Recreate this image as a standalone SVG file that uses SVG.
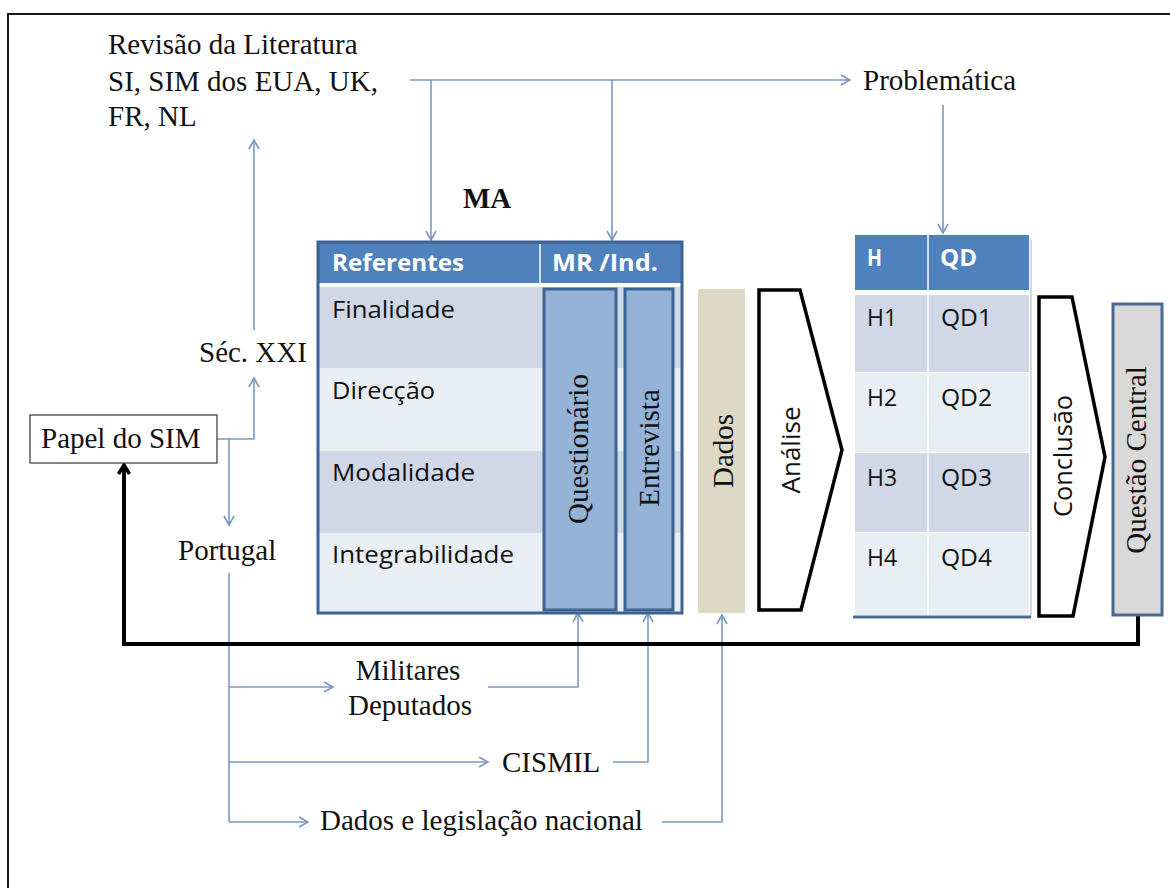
<svg xmlns="http://www.w3.org/2000/svg" width="1170" height="888" viewBox="0 0 1170 888">
  <style>
    .serif { font-family: "Liberation Serif", "Times New Roman", serif; font-size: 29px; fill: #111; }
    .sans { font-family: "Open Sans", "Liberation Sans", sans-serif; font-size: 23px; fill: #111; }
    .sansHead { font-family: "Open Sans", "Liberation Sans", sans-serif; font-size: 23px; font-weight: bold; fill: #ffffff; }
    .sansRot { font-family: "Open Sans", "Liberation Sans", sans-serif; font-size: 25px; fill: #111; }
    .link { fill: none; stroke: #7b98c2; stroke-width: 1.6; }
    .back { fill: none; stroke: #000; stroke-width: 4; }
    .chev { fill: #ffffff; stroke: #000; stroke-width: 3.5; stroke-linejoin: miter; }
    .rowA { fill: #d0d8e8; }
    .rowB { fill: #e9edf4; }
    .head { fill: #4f81bd; }
    .col { fill: #95b3d7; stroke: #3c6291; stroke-width: 3; }
  </style>
  <defs>
    <marker id="arrowBlue" markerUnits="userSpaceOnUse" markerWidth="14" markerHeight="14" refX="10" refY="6" orient="auto">
      <path d="M1,1 L10,6 L1,11" fill="none" stroke="#7b98c2" stroke-width="1.6"/>
    </marker>
    <marker id="arrowBlack" markerUnits="userSpaceOnUse" markerWidth="16" markerHeight="16" refX="11" refY="7" orient="auto">
      <path d="M2,1.5 L11,7 L2,12.5" fill="none" stroke="#000" stroke-width="3.5"/>
    </marker>
  </defs>

  <rect width="1170" height="888" fill="#ffffff"/>
  <!-- page frame -->
  <path d="M8,888 V14 H1170" fill="none" stroke="#1a1a1a" stroke-width="2"/>

  <!-- connectors -->
  <g id="connectors">
    <path class="link" d="M410,80 H850" marker-end="url(#arrowBlue)"/>
    <path class="link" d="M431,80 V240" marker-end="url(#arrowBlue)"/>
    <path class="link" d="M612,80 V240" marker-end="url(#arrowBlue)"/>
    <path class="link" d="M943,105 V233" marker-end="url(#arrowBlue)"/>
    <path class="link" d="M217,439 H254 V378" marker-end="url(#arrowBlue)"/>
    <path class="link" d="M254,330 V140" marker-end="url(#arrowBlue)"/>
    <path class="link" d="M229,439 V525" marker-end="url(#arrowBlue)"/>
    <path class="link" d="M229,573 V822"/>
    <path class="link" d="M229,687 H333" marker-end="url(#arrowBlue)"/>
    <path class="link" d="M229,762 H488" marker-end="url(#arrowBlue)"/>
    <path class="link" d="M229,822 H308" marker-end="url(#arrowBlue)"/>
    <path class="link" d="M488,687 H578 V613" marker-end="url(#arrowBlue)"/>
    <path class="link" d="M613,762 H648 V613" marker-end="url(#arrowBlue)"/>
    <path class="link" d="M662,822 H722 V615" marker-end="url(#arrowBlue)"/>
    <path class="back" d="M1138,616 V644 H124 V465" marker-end="url(#arrowBlack)"/>
  </g>

  <!-- literature review -->
  <g id="revisao">
    <text class="serif" x="108" y="54">Revisão da Literatura</text>
    <text class="serif" x="108" y="91">SI, SIM dos EUA, UK,</text>
    <text class="serif" x="108" y="126">FR, NL</text>
  </g>

  <g id="problematica">
    <text class="serif" x="863" y="90">Problemática</text>
  </g>

  <g id="ma">
    <text class="serif" x="463" y="208" font-weight="bold">MA</text>
  </g>

  <g id="seculo">
    <text class="serif" x="199" y="362">Séc. XXI</text>
  </g>

  <g id="papel">
    <rect x="30" y="415" width="187" height="48" fill="#ffffff" stroke="#333" stroke-width="1.2"/>
    <text class="serif" x="41" y="448">Papel do SIM</text>
  </g>

  <g id="portugal">
    <text class="serif" x="178" y="560">Portugal</text>
  </g>

  <g id="militares">
    <text class="serif" x="408" y="680" text-anchor="middle">Militares</text>
    <text class="serif" x="410" y="715" text-anchor="middle">Deputados</text>
  </g>

  <g id="cismil">
    <text class="serif" x="502" y="772">CISMIL</text>
  </g>

  <g id="legislacao">
    <text class="serif" x="320" y="830">Dados e legislação nacional</text>
  </g>

  <!-- analysis model table -->
  <g id="tabela-ma">
    <rect class="head" x="318" y="242" width="364" height="41"/>
    <rect x="318" y="283" width="364" height="4" fill="#ffffff"/>
    <rect class="rowA" x="318" y="287" width="364" height="81"/>
    <rect class="rowB" x="318" y="368" width="364" height="83"/>
    <rect class="rowA" x="318" y="451" width="364" height="82"/>
    <rect class="rowB" x="318" y="533" width="364" height="80"/>
    <line x1="540" y1="244" x2="540" y2="283" stroke="#ffffff" stroke-width="1.5"/>
    <rect x="318" y="242" width="364" height="371" fill="none" stroke="#3c6291" stroke-width="3"/>
    <text class="sansHead" x="332" y="271" textLength="132" lengthAdjust="spacingAndGlyphs">Referentes</text>
    <text class="sansHead" x="552" y="271" textLength="106" lengthAdjust="spacingAndGlyphs">MR /Ind.</text>
    <text class="sans" x="332" y="318" textLength="123" lengthAdjust="spacingAndGlyphs">Finalidade</text>
    <text class="sans" x="332" y="399" textLength="103" lengthAdjust="spacingAndGlyphs">Direcção</text>
    <text class="sans" x="332" y="481" textLength="143" lengthAdjust="spacingAndGlyphs">Modalidade</text>
    <text class="sans" x="332" y="563" textLength="182" lengthAdjust="spacingAndGlyphs">Integrabilidade</text>
  </g>

  <g id="questionario">
    <rect class="col" x="544" y="289" width="72" height="321"/>
    <text class="serif" transform="translate(588,449) rotate(-90)" text-anchor="middle">Questionário</text>
  </g>

  <g id="entrevista">
    <rect class="col" x="625" y="289" width="48" height="321"/>
    <text class="serif" transform="translate(659,448) rotate(-90)" text-anchor="middle">Entrevista</text>
  </g>

  <g id="dados">
    <rect x="698" y="289" width="47" height="324" fill="#ddd9c4"/>
    <text class="serif" transform="translate(733,451) rotate(-90)" text-anchor="middle">Dados</text>
  </g>

  <g id="analise">
    <path class="chev" d="M759,290 H800 L842,450 L801,610 H759 Z"/>
    <text class="sansRot" transform="translate(800,450) rotate(-90)" text-anchor="middle" textLength="87" lengthAdjust="spacingAndGlyphs">Análise</text>
  </g>

  <!-- hypotheses / derived questions table -->
  <g id="tabela-h">
    <rect class="head" x="855" y="235" width="174" height="55"/>
    <rect class="rowA" x="855" y="295" width="174" height="77"/>
    <rect class="rowB" x="855" y="373" width="174" height="79"/>
    <rect class="rowA" x="855" y="453" width="174" height="79"/>
    <rect class="rowB" x="855" y="533" width="174" height="82"/>
    <line x1="928" y1="235" x2="928" y2="615" stroke="#ffffff" stroke-width="1.5"/>
    <line x1="1031" y1="240" x2="1031" y2="617" stroke="#b4bccb" stroke-width="1.2"/>
    <line x1="853" y1="617" x2="1031" y2="617" stroke="#4a6a94" stroke-width="3"/>
    <text class="sansHead" x="867" y="266" textLength="15" lengthAdjust="spacingAndGlyphs">H</text>
    <text class="sansHead" x="940" y="266" textLength="37" lengthAdjust="spacingAndGlyphs">QD</text>
    <text class="sans" x="867" y="326" textLength="30" lengthAdjust="spacingAndGlyphs">H1</text>
    <text class="sans" x="941" y="326" textLength="51" lengthAdjust="spacingAndGlyphs">QD1</text>
    <text class="sans" x="867" y="406" textLength="30" lengthAdjust="spacingAndGlyphs">H2</text>
    <text class="sans" x="941" y="406" textLength="51" lengthAdjust="spacingAndGlyphs">QD2</text>
    <text class="sans" x="867" y="486" textLength="30" lengthAdjust="spacingAndGlyphs">H3</text>
    <text class="sans" x="941" y="486" textLength="51" lengthAdjust="spacingAndGlyphs">QD3</text>
    <text class="sans" x="867" y="566" textLength="30" lengthAdjust="spacingAndGlyphs">H4</text>
    <text class="sans" x="941" y="566" textLength="51" lengthAdjust="spacingAndGlyphs">QD4</text>
  </g>

  <g id="conclusao">
    <path class="chev" d="M1039,297 H1072 L1105,457 L1073,616 H1039 Z"/>
    <text class="sansRot" transform="translate(1072,456) rotate(-90)" text-anchor="middle" textLength="122" lengthAdjust="spacingAndGlyphs">Conclusão</text>
  </g>

  <g id="questao-central">
    <rect x="1113" y="304" width="49" height="311" fill="#d9d9d9" stroke="#4a6890" stroke-width="3"/>
    <text class="serif" transform="translate(1146,460) rotate(-90)" text-anchor="middle">Questão Central</text>
  </g>
</svg>
